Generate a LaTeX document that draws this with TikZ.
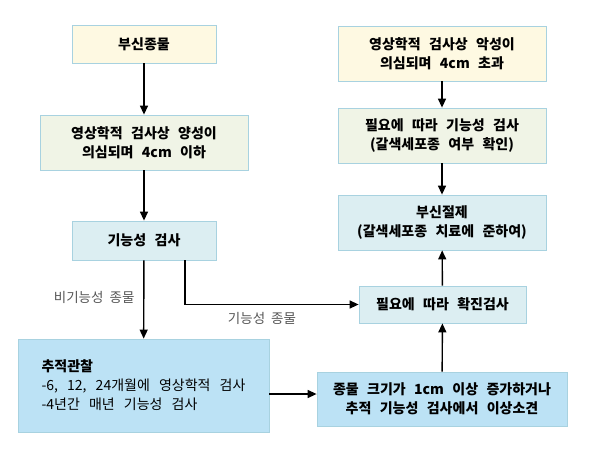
\documentclass[tikz,border=0pt]{standalone}
\usepackage{fontspec}
\setmainfont{Noto Sans CJK KR}
\usetikzlibrary{arrows.meta}
\definecolor{boxline}{HTML}{A8D2E0}
\definecolor{yellowbox}{HTML}{FEF9E2}
\definecolor{greenbox}{HTML}{F0F4E6}
\definecolor{lightbox}{HTML}{DCEEF2}
\definecolor{bluebox}{HTML}{BCE2F5}
\definecolor{labelgray}{HTML}{555555}
\newcommand{\wide}{\spaceskip=0.6em plus 0.1em\relax}
\newcommand{\widelist}{\spaceskip=0.65em plus 0.1em\relax}
\newcommand{\widelbl}{\spaceskip=0.45em plus 0.1em\relax}
\begin{document}
\begin{tikzpicture}[x=1pt,y=-1pt,
		box/.style={draw=boxline,line width=0.8pt,font=\fontsize{14}{19}\selectfont\bfseries\wide,align=center,inner sep=0pt},
		lbl/.style={text=labelgray,font=\fontsize{13.5}{17}\selectfont\widelbl},
		arr/.style={-{Triangle[width=8pt,length=9pt]},line width=1.4pt}]
		\useasboundingbox (0,0) rectangle (592,450);

		\draw (144,44) node[box,fill=yellowbox,minimum width=144,minimum height=38] (b1) {부신종물};
		\draw (144,142.5) node[box,fill=greenbox,minimum width=208,minimum height=55] (b2) {영상학적 검사상 양성이\\의심되며 4cm 이하};
		\draw (144,240.5) node[box,fill=lightbox,minimum width=144,minimum height=39] (b3) {기능성 검사};
		\draw (143.5,385.5) node[box,fill=bluebox,minimum width=251,minimum height=93,align=left,font=\fontsize{14}{19}\selectfont\widelist] (b4) {\textbf{추적관찰}\\-6, 12, 24개월에 영상학적 검사\\-4년간 매년 기능성 검사};

		\draw (442,53.5) node[box,fill=yellowbox,minimum width=208,minimum height=55] (r1) {영상학적 검사상 악성이\\의심되며 4cm 초과};
		\draw (442,135.5) node[box,fill=greenbox,minimum width=208,minimum height=55] (r2) {필요에 따라 기능성 검사\\(갈색세포종 여부 확인)};
		\draw (442,222.5) node[box,fill=lightbox,minimum width=208,minimum height=55] (r3) {부신절제\\(갈색세포종 치료에 준하여)};
		\draw (442.5,304.5) node[box,fill=lightbox,minimum width=167,minimum height=37] (r4) {필요에 따라 확진검사};
		\draw (442,399) node[box,fill=bluebox,minimum width=250,minimum height=54] (r5) {종물 크기가 1cm 이상 증가하거나\\추적 기능성 검사에서 이상소견};

		\coordinate (split) at (185,260);
		\coordinate (link) at (0,394);

		\draw[arr] (b1) -- (b2);
		\draw[arr] (b2) -- (b3);
		\draw[arr] (b3) -- (b4);
		\draw (138,297) node[lbl,anchor=east] (nf) {비기능성 종물};

		\draw[arr] (split) |- (r4.west);
		\draw (262,318) node[lbl] (fn) {기능성 종물};

		\draw[arr] (b4.east |- link) -- (r5.west |- link);
		\draw[arr] (r5) -- (r4);
		\draw[arr] (r4) -- (r3);
		\draw[arr] (r1) -- (r2);
		\draw[arr] (r2) -- (r3);
	\end{tikzpicture}
\end{document}
